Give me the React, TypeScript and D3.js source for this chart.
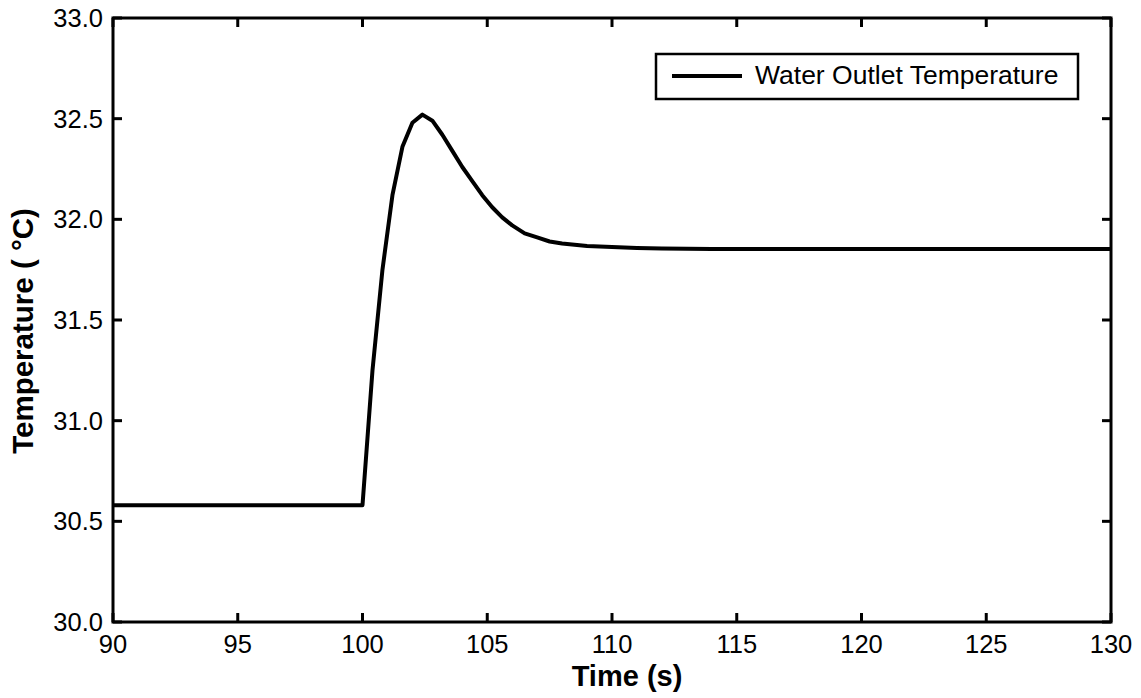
import React from "react";
import * as d3 from "d3";

const times = [90, 100, 100.4, 100.8, 101.2, 101.6, 102.0, 102.4, 102.8, 103.2, 103.6, 104.0, 104.4, 104.8, 105.2, 105.6, 106.0, 106.5, 107, 107.5, 108, 109, 110, 111, 112, 114, 130];
const temps = [30.58, 30.58, 31.25, 31.75, 32.12, 32.36, 32.48, 32.52, 32.49, 32.42, 32.34, 32.26, 32.19, 32.12, 32.06, 32.01, 31.97, 31.93, 31.91, 31.89, 31.88, 31.868, 31.862, 31.858, 31.855, 31.853, 31.853];
const xTicks = [90, 95, 100, 105, 110, 115, 120, 125, 130];
const yTicks = [30.0, 30.5, 31.0, 31.5, 32.0, 32.5, 33.0];
const seriesName = "Water Outlet Temperature";

const W = 1141, H = 698;
const L = 113, R = 1111, T = 18, B = 622;

export default function App() {
  const x = d3.scaleLinear().domain([90, 130]).range([L, R]);
  const y = d3.scaleLinear().domain([30, 33]).range([B, T]);
  const line = d3.line<number>().x((_, i) => x(times[i])).y((d) => y(d));
  const font = "Arial, 'Liberation Sans', sans-serif";
  const tl = 9;
  return (
    <svg width={W} height={H} style={{ position: "absolute", left: 0, top: 0, background: "#fff" }} fontFamily={font}>
      <rect x={0} y={0} width={W} height={H} fill="#fff" />
      <path d={line(temps) || ""} fill="none" stroke="#000" strokeWidth={4} strokeLinejoin="round" />
      {xTicks.map((t) => (
        <g key={"x" + t}>
          <line x1={x(t)} x2={x(t)} y1={B} y2={B - tl} stroke="#000" strokeWidth={3} />
          <line x1={x(t)} x2={x(t)} y1={T} y2={T + tl} stroke="#000" strokeWidth={3} />
          <text x={x(t)} y={653} textAnchor="middle" fontSize={25.5}>{t}</text>
        </g>
      ))}
      {yTicks.map((t) => (
        <g key={"y" + t}>
          <line x1={L} x2={L + tl} y1={y(t)} y2={y(t)} stroke="#000" strokeWidth={3} />
          <line x1={R} x2={R - tl} y1={y(t)} y2={y(t)} stroke="#000" strokeWidth={3} />
          <text x={103} y={y(t) + 9} textAnchor="end" fontSize={25.5}>{t.toFixed(1)}</text>
        </g>
      ))}
      <rect x={L} y={T} width={R - L} height={B - T} fill="none" stroke="#000" strokeWidth={3} />
      <rect x={656} y={54} width={422} height={45} fill="#fff" stroke="#000" strokeWidth={2.5} />
      <line x1={672} x2={742} y1={76} y2={76} stroke="#000" strokeWidth={4} />
      <text x={755} y={84} fontSize={26.5}>{seriesName}</text>
      <text x={627} y={686} textAnchor="middle" fontSize={29} fontWeight="bold">Time (s)</text>
      <text transform="translate(33,331) rotate(-90)" textAnchor="middle" fontSize={29.5} fontWeight="bold">Temperature ( °C)</text>
    </svg>
  );
}
